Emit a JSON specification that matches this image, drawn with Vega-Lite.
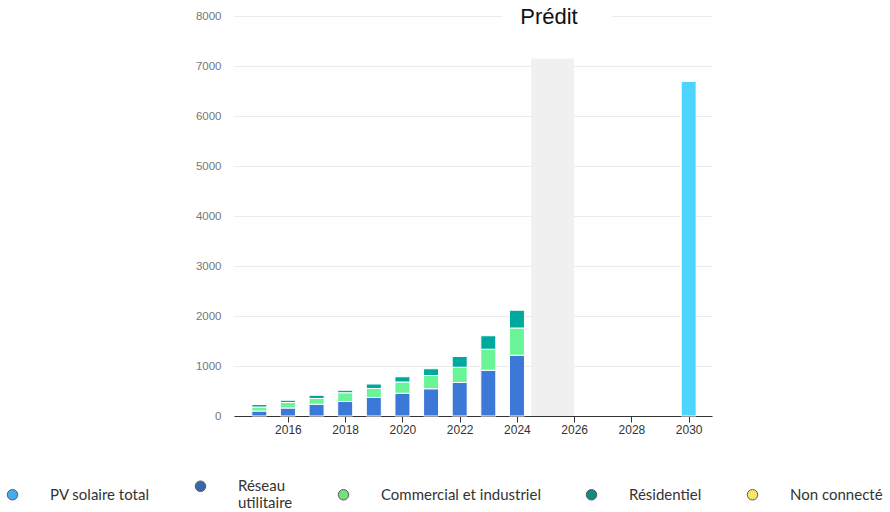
{
  "$schema": "https://vega.github.io/schema/vega-lite/v6.json",
  "autosize": "none",
  "width": 478,
  "height": 400,
  "padding": {"top": 16, "left": 234, "right": 178, "bottom": 96},
  "background": "white",
  "config": {
    "view": {"stroke": null},
    "font": "Liberation Sans"
  },
  "datasets": {
    "capacity": [
      {"year": 2015, "segment": "Réseau utilitaire", "mw": 100, "rank": 1},
      {"year": 2015, "segment": "Commercial et industriel", "mw": 80, "rank": 2},
      {"year": 2015, "segment": "Résidentiel", "mw": 50, "rank": 3},
      {"year": 2016, "segment": "Réseau utilitaire", "mw": 160, "rank": 1},
      {"year": 2016, "segment": "Commercial et industriel", "mw": 110, "rank": 2},
      {"year": 2016, "segment": "Résidentiel", "mw": 45, "rank": 3},
      {"year": 2017, "segment": "Réseau utilitaire", "mw": 235, "rank": 1},
      {"year": 2017, "segment": "Commercial et industriel", "mw": 115, "rank": 2},
      {"year": 2017, "segment": "Résidentiel", "mw": 65, "rank": 3},
      {"year": 2018, "segment": "Réseau utilitaire", "mw": 290, "rank": 1},
      {"year": 2018, "segment": "Commercial et industriel", "mw": 175, "rank": 2},
      {"year": 2018, "segment": "Résidentiel", "mw": 50, "rank": 3},
      {"year": 2019, "segment": "Réseau utilitaire", "mw": 370, "rank": 1},
      {"year": 2019, "segment": "Commercial et industriel", "mw": 180, "rank": 2},
      {"year": 2019, "segment": "Résidentiel", "mw": 90, "rank": 3},
      {"year": 2020, "segment": "Réseau utilitaire", "mw": 455, "rank": 1},
      {"year": 2020, "segment": "Commercial et industriel", "mw": 225, "rank": 2},
      {"year": 2020, "segment": "Résidentiel", "mw": 105, "rank": 3},
      {"year": 2021, "segment": "Réseau utilitaire", "mw": 545, "rank": 1},
      {"year": 2021, "segment": "Commercial et industriel", "mw": 265, "rank": 2},
      {"year": 2021, "segment": "Résidentiel", "mw": 135, "rank": 3},
      {"year": 2022, "segment": "Réseau utilitaire", "mw": 670, "rank": 1},
      {"year": 2022, "segment": "Commercial et industriel", "mw": 305, "rank": 2},
      {"year": 2022, "segment": "Résidentiel", "mw": 215, "rank": 3},
      {"year": 2023, "segment": "Réseau utilitaire", "mw": 915, "rank": 1},
      {"year": 2023, "segment": "Commercial et industriel", "mw": 420, "rank": 2},
      {"year": 2023, "segment": "Résidentiel", "mw": 270, "rank": 3},
      {"year": 2024, "segment": "Réseau utilitaire", "mw": 1215, "rank": 1},
      {"year": 2024, "segment": "Commercial et industriel", "mw": 545, "rank": 2},
      {"year": 2024, "segment": "Résidentiel", "mw": 355, "rank": 3},
      {"year": 2030, "segment": "PV solaire total", "mw": 6690, "rank": 1}
    ],
    "forecastBand": [
      {"start": 2024.5, "end": 2026, "top": 7150}
    ],
    "forecastLabel": [
      {"start": 2023.49, "end": 2027.33, "low": 7950, "high": 8050, "mid": 2025.12, "base": 7835, "text": "Prédit"}
    ]
  },
  "encoding": {
    "x": {
      "type": "quantitative",
      "scale": {"domain": [2014.29, 2030.64], "nice": false, "zero": false},
      "axis": {
        "values": [2016, 2018, 2020, 2022, 2024, 2026, 2028, 2030],
        "format": "d",
        "title": null,
        "grid": false,
        "domainColor": "#333333",
        "tickColor": "#333333",
        "tickSize": 6,
        "labelColor": "#333333",
        "labelFontSize": 12,
        "labelPadding": 2
      }
    },
    "y": {
      "type": "quantitative",
      "scale": {"domain": [0, 8000], "nice": false},
      "axis": {
        "values": [0, 1000, 2000, 3000, 4000, 5000, 6000, 7000, 8000],
        "format": "d",
        "title": null,
        "domain": false,
        "ticks": false,
        "grid": true,
        "gridColor": "#ebebeb",
        "labelColor": "#777777",
        "labelFontSize": 11.5,
        "labelPadding": 13
      }
    }
  },
  "layer": [
    {
      "data": {"name": "forecastBand"},
      "mark": {"type": "rect", "color": "#f0f0f0"},
      "encoding": {
        "x": {"field": "start"},
        "x2": {"field": "end"},
        "y": {"field": "top"},
        "y2": {"datum": 0}
      }
    },
    {
      "data": {"name": "capacity"},
      "mark": {"type": "bar", "width": 15, "stroke": "white", "strokeWidth": 1},
      "encoding": {
        "x": {"field": "year"},
        "y": {"field": "mw", "stack": "zero"},
        "order": {"field": "rank", "type": "quantitative"},
        "color": {
          "field": "segment",
          "type": "nominal",
          "scale": {
            "domain": ["PV solaire total", "Réseau utilitaire", "Commercial et industriel", "Résidentiel"],
            "range": ["#4dd4ff", "#3c78d8", "#69f597", "#00a99d"]
          },
          "legend": null
        }
      }
    },
    {
      "data": {"name": "capacity"},
      "transform": [{"filter": "datum.rank > 99"}],
      "mark": {"type": "point", "filled": true, "stroke": "#5a5a5a", "strokeWidth": 1, "opacity": 1},
      "encoding": {
        "x": {"field": "year"},
        "y": {"field": "mw"},
        "fill": {
          "field": "segment",
          "type": "nominal",
          "scale": {
            "domain": ["PV solaire total", "Réseau utilitaire", "Commercial et industriel", "Résidentiel", "Non connecté"],
            "range": ["#47aaeb", "#3b67a8", "#72e07c", "#128a80", "#f3e66a"]
          },
          "legend": {
            "title": null,
            "orient": "none",
            "direction": "horizontal",
            "columns": 5,
            "legendX": -229,
            "legendY": 462.5,
            "padding": 0,
            "symbolType": "circle",
            "symbolSize": 110,
            "symbolStrokeColor": "#5a5a5a",
            "symbolStrokeWidth": 1,
            "labelFont": "Lato",
            "labelFontSize": 15,
            "labelColor": "#333333",
            "labelOffset": 30,
            "columnPadding": 43,
            "labelLimit": 300,
            "labelExpr": "datum.label === 'Réseau utilitaire' ? ['Réseau', 'utilitaire'] : datum.label",
            "encode": {
              "labels": {
                "lineHeight": {"value": 19},
                "dy": {"value": {"expr": "datum.value === 'Réseau utilitaire' ? -9.5 : -2"}}
              }
            }
          }
        }
      }
    },
    {
      "data": {"name": "forecastLabel"},
      "mark": {"type": "rect", "color": "white"},
      "encoding": {
        "x": {"field": "start"},
        "x2": {"field": "end"},
        "y": {"field": "low"},
        "y2": {"field": "high"}
      }
    },
    {
      "data": {"name": "forecastLabel"},
      "mark": {"type": "text", "font": "Liberation Sans", "fontSize": 22, "color": "#111111", "align": "center", "baseline": "alphabetic"},
      "encoding": {
        "x": {"field": "mid"},
        "y": {"field": "base"},
        "text": {"field": "text"}
      }
    }
  ]
}
